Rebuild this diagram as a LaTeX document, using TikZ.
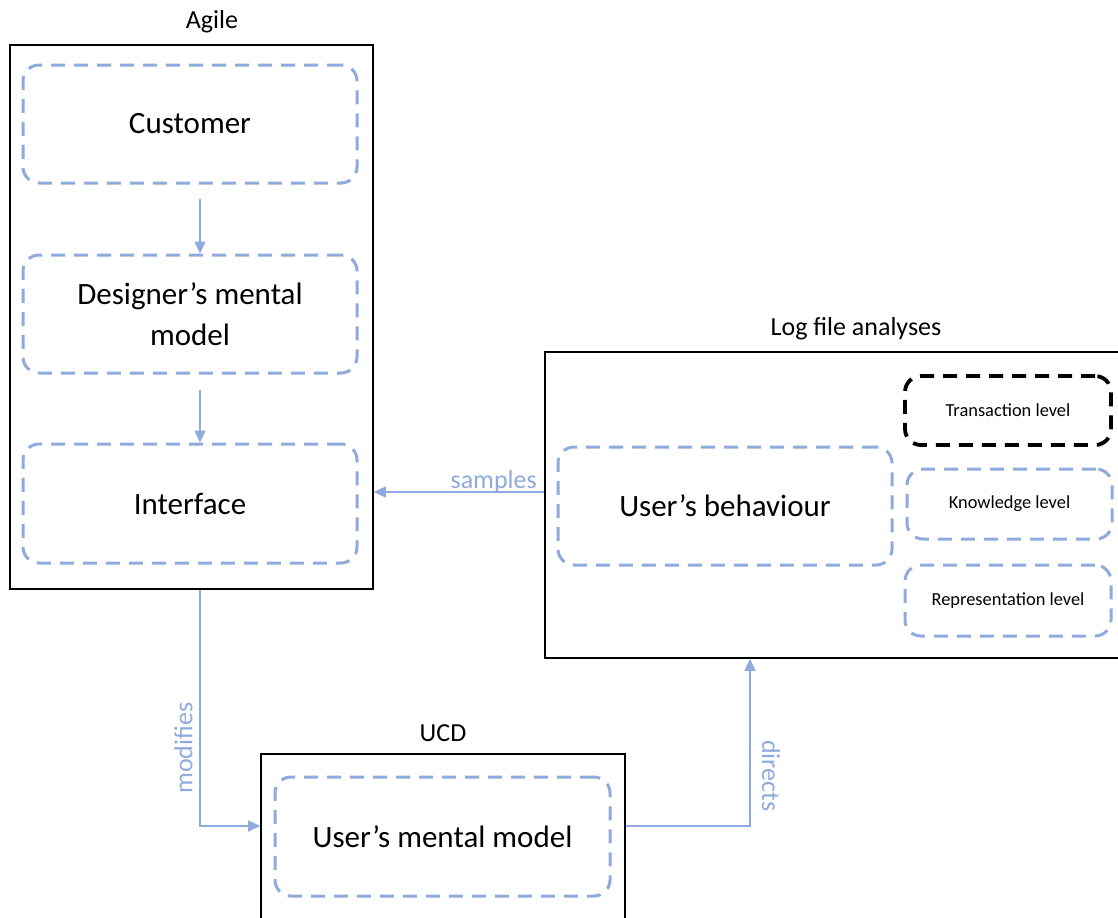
\documentclass[tikz,border=0pt]{standalone}
\usepackage{fontspec}
\setmainfont{Carlito}
\usetikzlibrary{arrows.meta}

\definecolor{flowblue}{RGB}{143,170,220}
\newcommand{\bigtext}{\fontsize{15.5}{20.5}\selectfont}
\newcommand{\lbltext}{\fontsize{13}{15}\selectfont}
\newcommand{\smalltext}{\fontsize{9.2}{11}\selectfont}

\tikzset{
  outerbox/.style={draw=black, line width=0.8pt, inner sep=0pt},
  dashbox/.style={draw=flowblue, line width=1.5pt, dash pattern=on 7pt off 4.5pt,
    rounded corners=8pt, inner sep=0pt, align=center, font=\bigtext},
  levelbox/.style={dashbox, font=\smalltext},
  flow/.style={draw=flowblue, line width=0.8pt, -{Triangle[length=6pt,width=5.5pt]}},
  flowlbl/.style={text=flowblue, font=\lbltext}
}

\begin{document}
\begin{tikzpicture}[x=0.5pt,y=-0.5pt]
\useasboundingbox (0,0) rectangle (1118,917);
\clip (0,0) rectangle (1118,917);

% Agile
\node [outerbox, minimum width=181.5pt, minimum height=272pt] (agile) at (191.5,317) {};
\node [font=\lbltext] (agilelbl) at (212,22) {Agile};
\node [dashbox, minimum width=167pt, minimum height=59pt] (customer) at (190,124) {Customer};
\node [dashbox, minimum width=167pt, minimum height=59pt] (designer) at (190,314) {Designer’s mental\\model};
\node [dashbox, minimum width=167pt, minimum height=59.5pt] (interface) at (190,503.5) {Interface};
\draw [flow, shorten <=7pt] ([xshift=5pt]customer.south) -- ([xshift=5pt]designer.north);
\draw [flow, shorten <=7.5pt] ([xshift=5pt]designer.south) -- ([xshift=5pt]interface.north);

% Log file analyses
\node [outerbox, minimum width=292.5pt, minimum height=153pt] (log) at (837.5,505) {};
\node [font=\lbltext] (loglbl) at (856,329) {Log file analyses};
\node [dashbox, minimum width=167pt, minimum height=59pt] (behaviour) at (725,506) {User’s behaviour};
\node [levelbox, draw=black, line width=1.9pt, minimum width=103pt, minimum height=34.5pt] (transaction) at (1008,410.5) {Transaction level};
\node [levelbox, minimum width=102.5pt, minimum height=35pt] (knowledge) at (1009.5,504) {Knowledge level};
\node [levelbox, minimum width=103pt, minimum height=35.5pt] (representation) at (1008,600.5) {Representation level};

% UCD
\node [outerbox, minimum width=182pt, minimum height=93pt] (ucd) at (443,847) {};
\node [font=\lbltext] (ucdlbl) at (443,733) {UCD};
\node [dashbox, minimum width=167.5pt, minimum height=59.5pt] (usermodel) at (442.5,836.5) {User’s mental model};

%------------\\

\draw [flow] ([yshift=6.5pt]log.west) -- node [flowlbl, pos=0, above left, xshift=0pt, yshift=-4pt] {samples} ([yshift=6.5pt]log.west -| agile.east);
\draw [flow] ([xshift=4.25pt]agile.south) |- node [flowlbl, pos=0.335, rotate=90, anchor=south] {modifies} ([yshift=10.5pt]ucd.west);
\draw [flow] ([yshift=10.5pt]ucd.east) -| node [flowlbl, pos=0.65, rotate=-90, anchor=south, inner sep=5.5pt] {directs} ([xshift=-43.75pt]log.south);
\end{tikzpicture}
\end{document}
